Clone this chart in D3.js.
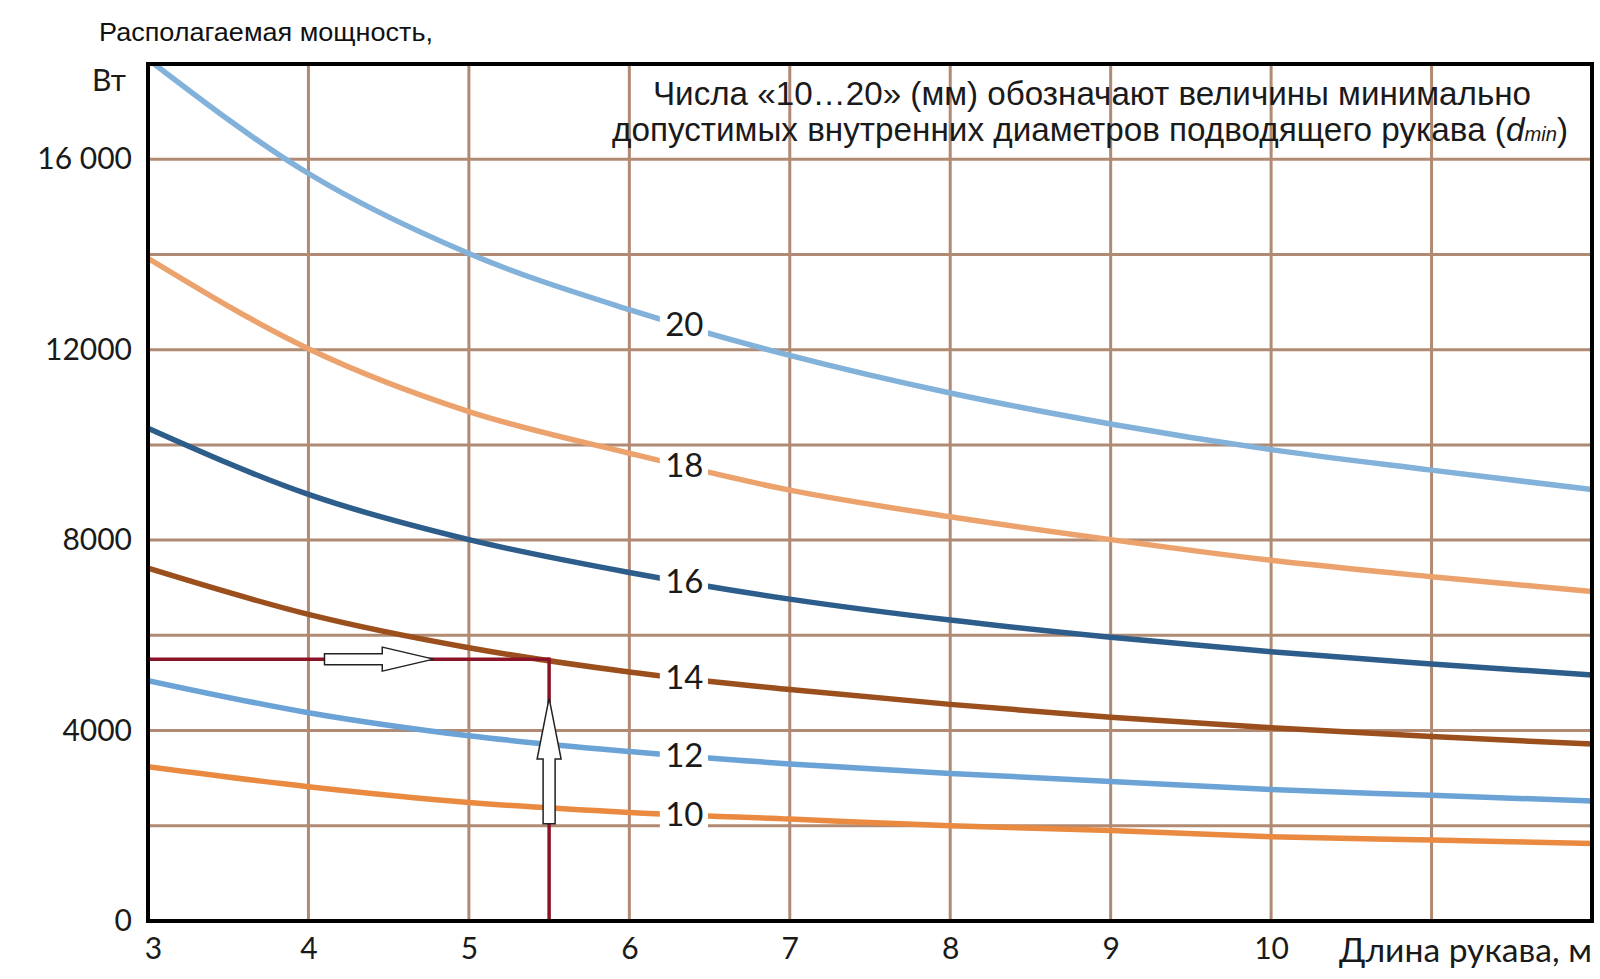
<!DOCTYPE html>
<html>
<head>
<meta charset="utf-8">
<script src="https://cdn.jsdelivr.net/npm/d3@7"></script>
<style>
  body { margin: 0; background: #fff; }
  svg { display: block; }
</style>
</head>
<body>
<div id="chart"></div>
<script>

// data //

const lengths = [3, 4, 5, 6, 7, 8, 9, 10, 11, 12];

const power20 = [18100, 15700, 14020, 12840, 11880, 11090, 10440, 9900, 9470, 9060];
const power18 = [13920, 12020, 10700, 9825, 9050, 8490, 8010, 7575, 7230, 6920];
const power16 = [10350, 8960, 8010, 7320, 6760, 6320, 5960, 5655, 5400, 5165];
const power14 = [7410, 6440, 5740, 5230, 4860, 4550, 4280, 4060, 3875, 3715];
const power12 = [5050, 4375, 3890, 3560, 3300, 3100, 2930, 2760, 2640, 2520];
const power10 = [3240, 2820, 2490, 2280, 2140, 2000, 1900, 1770, 1700, 1630];

const diameters = ["20", "18", "16", "14", "12", "10"];
const seriesColors = ["#82b1da", "#eca26c", "#2d5d8b", "#9b4f1d", "#6ba3d7", "#e98a40"];

const xTickValues = [3, 4, 5, 6, 7, 8, 9, 10];
const xGridValues = [4, 5, 6, 7, 8, 9, 10, 11];
const yTickValues = [0, 4000, 8000, 12000, 16000];
const yTickLabels = ["0", "4000", "8000", "12000", "16 000"];
const yGridValues = [2000, 4000, 6000, 8000, 10000, 12000, 14000, 16000];

// example: 5.5 m of hose -> 5500 W
const exampleLength = 5.5;
const examplePower = 5500;
const arrowRight = [4.10, 4.46, 4.78];   // shaft start, head base, tip (m)
const arrowUp = [2040, 3400, 4680];      // shaft start, head base, tip (W)

const labelAt = 6.33;
const gapFrom = 6.19;
const gapTo = 6.49;

// chart setup //

const W = 1600, H = 979;
const m = { left: 148, right: 1592, top: 64, bottom: 921 };

const x = d3.scaleLinear().domain([3, 12]).range([m.left, m.right]);
const y = d3.scaleLinear().domain([0, 18000]).range([m.bottom, m.top]);

const svg = d3.select("#chart")
  .append("svg")
    .attr("width", W)
    .attr("height", H);

svg.append("defs")
  .append("clipPath")
    .attr("id", "plot-clip")
  .append("rect")
    .attr("x", m.left)
    .attr("y", m.top)
    .attr("width", m.right - m.left)
    .attr("height", m.bottom - m.top);

const gridColor = "#b08a72";

// vertical gridlines
svg.selectAll(".xGrid")
  .data(xGridValues)
  .join("line")
  .attr("x1", d => x(d))
  .attr("x2", d => x(d))
  .attr("y1", m.top)
  .attr("y2", m.bottom)
  .attr("stroke", gridColor)
  .attr("stroke-width", 3);

// horizontal gridlines
svg.selectAll(".yGrid")
  .data(yGridValues)
  .join("line")
  .attr("x1", m.left)
  .attr("x2", m.right)
  .attr("y1", d => y(d))
  .attr("y2", d => y(d))
  .attr("stroke", gridColor)
  .attr("stroke-width", 3);

// curves
const series = [power20, power18, power16, power14, power12, power10].map((vals, i) => ({
  name: diameters[i],
  color: seriesColors[i],
  points: lengths.map((l, j) => ({ len: l, p: vals[j] }))
}));

const line = d3.line()
  .x(d => x(d.len))
  .y(d => y(d.p))
  .curve(d3.curveMonotoneX);

const plot = svg.append("g").attr("clip-path", "url(#plot-clip)");

plot.selectAll(".curve")
  .data(series)
  .join("path")
  .attr("fill", "none")
  .attr("stroke", d => d.color)
  .attr("stroke-width", 5.5)
  .attr("d", d => line(d.points));

// example lines
const red = "#8a1328";
plot.append("line")
  .attr("x1", x(3))
  .attr("x2", x(exampleLength))
  .attr("y1", y(examplePower))
  .attr("y2", y(examplePower))
  .attr("stroke", red)
  .attr("stroke-width", 3.5);

plot.append("line")
  .attr("x1", x(exampleLength))
  .attr("x2", x(exampleLength))
  .attr("y1", y(0))
  .attr("y2", y(examplePower) - 1.75)
  .attr("stroke", red)
  .attr("stroke-width", 3.5);

// hollow arrows
const ay = y(examplePower);
const rightPts = [
  [x(arrowRight[0]), ay - 5.5], [x(arrowRight[1]), ay - 5.5], [x(arrowRight[1]), ay - 12],
  [x(arrowRight[2]), ay], [x(arrowRight[1]), ay + 12], [x(arrowRight[1]), ay + 5.5],
  [x(arrowRight[0]), ay + 5.5]
];
const ax = x(exampleLength);
const upPts = [
  [ax - 6, y(arrowUp[0])], [ax - 6, y(arrowUp[1])], [ax - 12, y(arrowUp[1])],
  [ax, y(arrowUp[2])], [ax + 12, y(arrowUp[1])], [ax + 6, y(arrowUp[1])],
  [ax + 6, y(arrowUp[0])]
];

plot.selectAll(".arrow")
  .data([rightPts, upPts])
  .join("polygon")
  .attr("points", d => d.map(p => p.join(",")).join(" "))
  .attr("fill", "#fff")
  .attr("stroke", "#222")
  .attr("stroke-width", 1.5);

// curve labels, with a gap cut in each curve
const labelValue = s => {
  const i = d3.bisectLeft(lengths, labelAt) - 1;
  const a = s.points[i], b = s.points[i + 1];
  return a.p + (b.p - a.p) * (labelAt - a.len) / (b.len - a.len);
};

svg.selectAll(".gap")
  .data(series)
  .join("rect")
  .attr("x", x(gapFrom))
  .attr("width", x(gapTo) - x(gapFrom))
  .attr("y", d => y(labelValue(d)) - 15)
  .attr("height", 30)
  .attr("fill", "#fff");

svg.selectAll(".curve-label")
  .data(series)
  .join("text")
  .attr("x", x(labelAt) + 2)
  .attr("y", d => y(labelValue(d)))
  .attr("dy", "0.35em")
  .attr("text-anchor", "middle")
  .style("font-family", "Lato, 'Open Sans', sans-serif")
  .style("font-size", "33px")
  .style("fill", "#1a1a1a")
  .text(d => d.name);

// axes
svg.append("g")
  .attr("transform", `translate(${m.left},0)`)
  .call(d3.axisLeft(y)
    .tickValues(yTickValues)
    .tickFormat((d, i) => yTickLabels[i])
    .tickSize(0)
    .tickPadding(16))
  .call(g => g.select(".domain").remove())
  .selectAll(".tick text")
  .style("font-family", "Lato, 'Open Sans', sans-serif")
  .style("font-size", "30px")
  .style("fill", "#1a1a1a");

svg.append("g")
  .attr("transform", `translate(0,${m.bottom})`)
  .call(d3.axisBottom(x)
    .tickValues(xTickValues)
    .tickFormat(d3.format("d"))
    .tickSize(0)
    .tickPadding(17))
  .call(g => g.select(".domain").remove())
  .selectAll(".tick text")
  .attr("dx", d => d === 3 ? 5 : 0)
  .style("font-family", "Lato, 'Open Sans', sans-serif")
  .style("font-size", "30px")
  .style("fill", "#1a1a1a");

// plot border
svg.append("rect")
  .attr("x", m.left)
  .attr("y", m.top)
  .attr("width", m.right - m.left)
  .attr("height", m.bottom - m.top)
  .attr("fill", "none")
  .attr("stroke", "#000")
  .attr("stroke-width", 4);

// axis titles
svg.append("text")
  .attr("x", 99)
  .attr("y", 41)
  .attr("textLength", 334)
  .attr("lengthAdjust", "spacingAndGlyphs")
  .style("font-family", "'Liberation Sans', Arial, sans-serif")
  .style("font-size", "25px")
  .style("fill", "#111")
  .text("Располагаемая мощность,");

svg.append("text")
  .attr("x", 126)
  .attr("y", 91)
  .attr("text-anchor", "end")
  .style("font-family", "Lato, 'Open Sans', sans-serif")
  .style("font-size", "30px")
  .style("fill", "#1a1a1a")
  .text("Вт");

svg.append("text")
  .attr("x", 1339)
  .attr("y", 962)
  .attr("textLength", 253)
  .attr("lengthAdjust", "spacingAndGlyphs")
  .style("font-family", "Lato, 'Open Sans', sans-serif")
  .style("font-size", "32px")
  .style("fill", "#1a1a1a")
  .text("Длина рукава, м");

// note in the upper right
const note = svg.append("g")
  .style("font-family", "'Liberation Sans Narrow', 'Liberation Sans', Arial, sans-serif")
  .style("font-size", "33px")
  .style("fill", "#1a1a1a");

note.append("text")
  .attr("x", 653)
  .attr("y", 105)
  .attr("textLength", 878)
  .attr("lengthAdjust", "spacingAndGlyphs")
  .text("Числа «10…20» (мм) обозначают величины минимально");

const line2 = note.append("text")
  .attr("x", 612)
  .attr("y", 141)
  .attr("textLength", 956)
  .attr("lengthAdjust", "spacingAndGlyphs");
line2.append("tspan").text("допустимых внутренних диаметров подводящего рукава (");
line2.append("tspan").style("font-style", "italic").text("d");
line2.append("tspan").style("font-style", "italic").style("font-size", "20px").text("min");
line2.append("tspan").text(")");

</script>
</body>
</html>
